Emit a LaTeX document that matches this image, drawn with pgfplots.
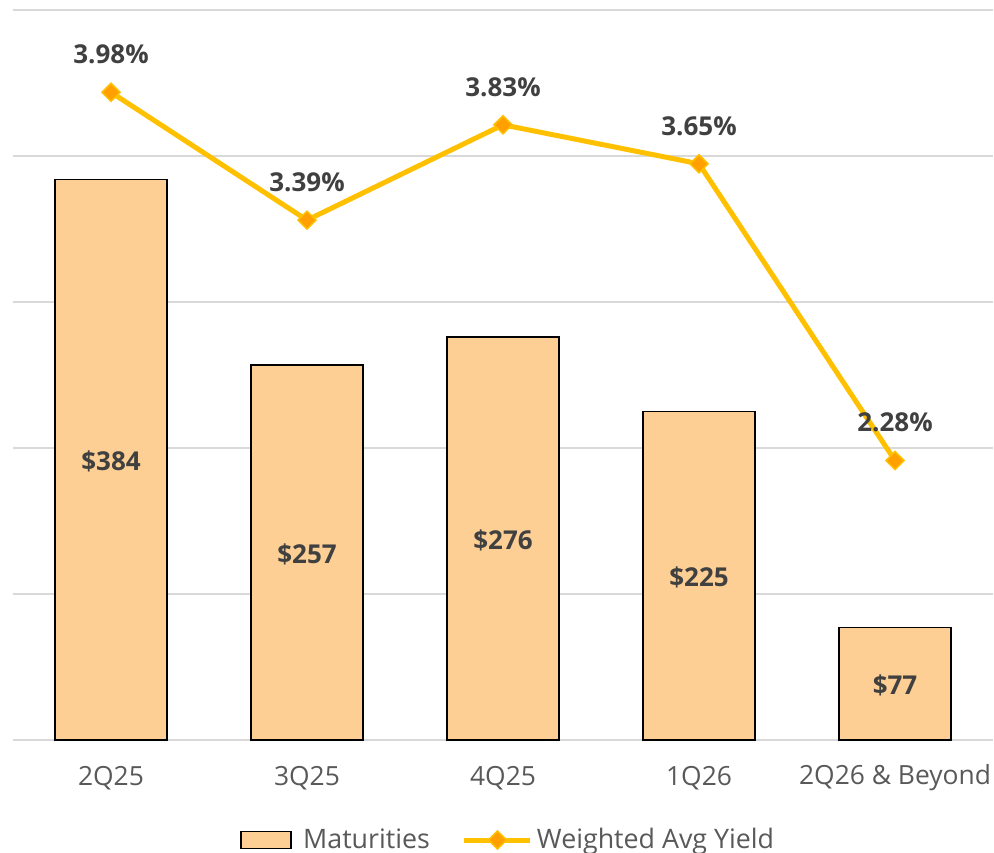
\documentclass[border=0pt]{standalone}
\usepackage{pgfplots}
\pgfplotsset{compat=1.18}
\usepackage{pgfplotstable}
\usepackage{fontspec}
\setmainfont{Open Sans}

\definecolor{barfill}{HTML}{FDCF94}
\definecolor{linecol}{HTML}{FFC000}
\definecolor{markfill}{HTML}{FF9F00}
\definecolor{gridgray}{HTML}{D9D9D9}
\definecolor{ticktext}{HTML}{595959}
\definecolor{labeltext}{HTML}{404040}

\pgfplotstableread{
x v
0 384
1 257
2 276
3 225
4 77
}\bardata

\pgfplotstableread{
x v
0 3.98
1 3.39
2 3.83
3 3.65
4 2.28
}\yielddata

\begin{document}
\begin{tikzpicture}
\path[use as bounding box] (-6.5pt,-56pt) rectangle (490.5pt,370pt);

% bars: maturities
\begin{axis}[
    at={(0,0)}, anchor=south west,
    scale only axis, width=490pt, height=365pt,
    xmin=-0.5, xmax=4.5, ymin=0, ymax=500,
    xtick={0,...,4},
    xticklabels={2Q25,3Q25,4Q25,1Q26,2Q26 \& Beyond},
    ytick={0,100,...,500}, yticklabels={},
    ymajorgrids, grid style={gridgray, line width=0.75pt},
    axis line style={draw=none}, major tick length=0pt,
    tick label style={font=\fontsize{13.2}{15}\selectfont, text=ticktext},
    xticklabel style={anchor=center, yshift=-19pt},
    /pgf/number format/assume math mode=true,
]
\addplot[ybar, bar width=0.57, fill=barfill, draw=black, line width=0.75pt]
    table[x=x, y=v] \bardata;
\addplot[draw=none, mark=none,
    nodes near coords={\$\pgfmathprintnumber{\pgfplotspointmeta}},
    point meta=explicit,
    every node near coord/.append style={anchor=center, yshift=-1pt,
        font=\bfseries\fontsize{13}{15}\selectfont, text=labeltext}]
    table[x=x, y expr=\thisrow{v}/2, meta=v] \bardata;
\end{axis}

% line: weighted avg yield
\begin{axis}[
    at={(0,0)}, anchor=south west,
    scale only axis, width=490pt, height=365pt,
    xmin=-0.5, xmax=4.5, ymin=0.99, ymax=4.36,
    hide axis,
    /pgf/number format/assume math mode=true,
    legend style={at={(0.5,0)}, anchor=center, yshift=-50pt, xshift=3pt, draw=none,
        font=\fontsize{13.4}{15}\selectfont, text=ticktext,
        /tikz/every even column/.append style={column sep=14pt}},
    legend columns=2,
]
\addlegendimage{legend image code/.code={
    \draw[fill=barfill, draw=black, line width=0.9pt] (0pt,-4.25pt) rectangle (25pt,4.25pt);
    \path (29pt,0pt);}}
\addlegendentry{Maturities}
\addplot[color=linecol, line width=2.5pt,
    mark=square*, mark size=3.2pt,
    mark options={rotate=45, fill=markfill, draw=linecol, line width=0.75pt},
    legend image code/.code={
        \draw[linecol, line width=2.5pt] (0pt,0pt) -- (33pt,0pt);
        \filldraw[fill=markfill, draw=linecol, line width=0.75pt]
            (16.5pt,4.5pt) -- (21pt,0pt) -- (16.5pt,-4.5pt) -- (12pt,0pt) -- cycle;},
    nodes near coords={\pgfmathprintnumber[fixed,precision=2,fixed zerofill]{\pgfplotspointmeta}\%},
    every node near coord/.append style={anchor=center, yshift=19pt,
        font=\bfseries\fontsize{13}{15}\selectfont, text=labeltext}]
    table[x=x, y=v] \yielddata;
\addlegendentry{Weighted Avg Yield}
\end{axis}
\end{tikzpicture}
\end{document}
